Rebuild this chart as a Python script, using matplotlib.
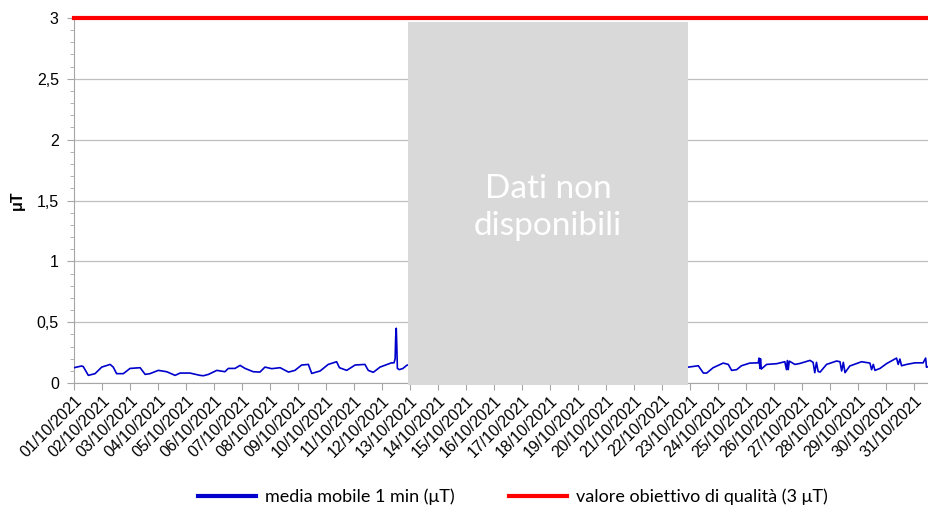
import numpy as np
import matplotlib
matplotlib.use("Agg")
import matplotlib.pyplot as plt
from matplotlib.patches import Rectangle

# giorni dal 01/10/2021 00:00 e media mobile 1 min (uT)
giorni_1 = [0.0, 0.27, 0.33, 0.51, 0.75, 0.99, 1.29, 1.40, 1.52, 1.76, 2.0, 2.36, 2.54,
            2.71, 3.01, 3.31, 3.61, 3.79, 4.14, 4.5, 4.62, 4.8, 5.1, 5.39, 5.51, 5.75,
            5.93, 6.11, 6.40, 6.64, 6.82, 7.06, 7.36, 7.66, 7.89, 8.13, 8.37, 8.49,
            8.79, 9.08, 9.38, 9.48, 9.74, 10.04, 10.39, 10.51, 10.69, 10.93, 11.34,
            11.43, 11.47, 11.49, 11.51, 11.53, 11.55, 11.62, 11.75, 11.88, 11.95]
valori_1 = [0.126, 0.140, 0.135, 0.063, 0.077, 0.131, 0.153, 0.131, 0.077, 0.077, 0.120,
            0.126, 0.071, 0.077, 0.104, 0.093, 0.063, 0.082, 0.082, 0.063, 0.060, 0.071,
            0.104, 0.093, 0.120, 0.120, 0.145, 0.120, 0.093, 0.090, 0.131, 0.118, 0.126,
            0.090, 0.104, 0.148, 0.153, 0.079, 0.099, 0.153, 0.175, 0.126, 0.104, 0.148,
            0.153, 0.104, 0.088, 0.131, 0.166, 0.166, 0.200, 0.380, 0.450, 0.300, 0.120,
            0.110, 0.120, 0.145, 0.150]

giorni_2 = [21.95, 22.3, 22.48, 22.6, 22.83, 23.19, 23.37, 23.49, 23.67, 23.84, 24.14,
            24.44, 24.47, 24.50, 24.52, 24.55, 24.74, 25.1, 25.39, 25.45, 25.48, 25.51,
            25.55, 25.75, 25.93, 26.29, 26.4, 26.46, 26.52, 26.58, 26.65, 26.88, 27.24,
            27.36, 27.42, 27.48, 27.54, 27.71, 28.13, 28.43, 28.49, 28.55, 28.61, 28.79,
            29.02, 29.38, 29.44, 29.50, 29.56, 29.74, 30.04, 30.33, 30.42, 30.45, 30.6]
valori_2 = [0.131, 0.142, 0.082, 0.082, 0.126, 0.164, 0.153, 0.104, 0.110, 0.142, 0.164,
            0.166, 0.205, 0.120, 0.200, 0.115, 0.153, 0.159, 0.175, 0.110, 0.185, 0.110,
            0.180, 0.153, 0.161, 0.186, 0.170, 0.085, 0.170, 0.095, 0.090, 0.153, 0.181,
            0.175, 0.099, 0.170, 0.085, 0.140, 0.175, 0.164, 0.110, 0.153, 0.104, 0.120,
            0.159, 0.205, 0.153, 0.197, 0.142, 0.153, 0.166, 0.166, 0.205, 0.130, 0.140]

etichette = ["%02d/10/2021" % d for d in range(1, 32)]
soglia = 3.0
buco = (11.93, 21.93)  # periodo senza dati

x = giorni_1 + [np.nan] + giorni_2
y = valori_1 + [np.nan] + valori_2

fig = plt.figure(figsize=(9.29, 5.08), dpi=100)
ax = fig.add_axes([0.0797, 0.246, 0.9203, 0.7186])

ax.plot(x, y, color="#0000CC", lw=1.2, label="media mobile 1 min (μT)", zorder=3)
ax.axhline(soglia, color="#FF0000", lw=3, label="valore obiettivo di qualità (3 μT)",
           zorder=4, clip_on=False)

ax.add_patch(Rectangle((buco[0], -0.02), buco[1] - buco[0], 2.99, facecolor="#D9D9D9",
                       edgecolor="none", zorder=5, clip_on=False))
ax.text((buco[0] + buco[1]) / 2, 1.445, "Dati non\ndisponibili", color="white",
        fontsize=24, family="Lato", ha="center", va="center", linespacing=1.3, zorder=6)

ax.set_xlim(0, 30.54)
ax.set_ylim(0, 3)
ax.set_xticks(range(31))
ax.set_xticklabels(etichette, rotation=45, ha="right", rotation_mode="anchor",
                   family="Liberation Sans", fontsize=11.5)
ax.set_yticks(np.arange(0, 3.01, 0.5))
ax.set_yticklabels(["0", "0,5", "1", "1,5", "2", "2,5", "3"], family="Liberation Sans",
                   fontsize=11.5)
ax.set_yticks(np.arange(0, 3.01, 0.1), minor=True)
ax.tick_params(axis="y", which="major", length=5, color="#A6A6A6", pad=6)
ax.tick_params(axis="y", which="minor", length=3, color="#A6A6A6")
ax.tick_params(axis="x", length=5, color="#A6A6A6", pad=2)
ax.grid(axis="y", which="major", color="#BFBFBF", lw=0.9)
ax.set_axisbelow(True)
for s in ["top", "right"]:
    ax.spines[s].set_visible(False)
for s in ["left", "bottom"]:
    ax.spines[s].set_color("#A6A6A6")
ax.set_ylabel("μT", fontsize=11.5, fontweight="bold", family="Liberation Sans")
ax.yaxis.set_label_coords(-0.058, 0.5)

fig.text(0.56, 0.996, "Andamento della media mobile a 1 minuto - Ottobre 2021",
         ha="center", va="bottom", fontsize=13, family="Liberation Sans", color="#404040")

leg = fig.legend(loc="center", bbox_to_anchor=(0.552, 0.022), ncol=2, frameon=False,
                 prop={"family": "Lato", "size": 13}, handlelength=3.2, columnspacing=3.0,
                 handletextpad=0.5)
for h in leg.legend_handles:
    h.set_linewidth(3)

fig.savefig("out.png", dpi=100)
